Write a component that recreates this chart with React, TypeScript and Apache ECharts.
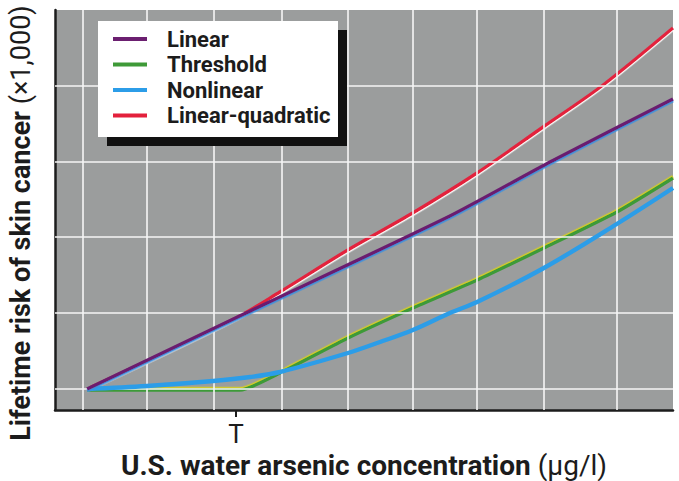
import React, { useEffect, useRef } from 'react';
import * as echarts from 'echarts';

const legendNames = ['Linear', 'Threshold', 'Nonlinear', 'Linear-quadratic'];

const linearData = [[5.2, 5.25], [30.9, 24.25], [63.9, 48.5], [80.1, 62], [100, 77.75]];
const linearQuadraticData = [[5.2, 5.25], [29.3, 23], [36.4, 29.5], [47.4, 40], [57.9, 49.25], [68.3, 59.25], [79, 70.75], [88.5, 81], [100, 95.5]];
const thresholdData = [[5.2, 5], [29.9, 5], [36.4, 9.25], [47.4, 18], [57.9, 25.5], [68.3, 32.5], [79.1, 40.5], [90.9, 49.5], [100, 58]];
const nonlinearData = [[5.2, 5.25], [14.9, 6], [25.6, 7.25], [31.6, 8.25], [36.4, 9.5], [47.4, 14.25], [52.6, 17], [57.9, 20], [63.9, 24.25], [68.3, 27], [79.1, 35.5], [90.9, 46.5], [100, 55.5]];

const xGridValues = [4.5, 14.9, 25.7, 36.7, 47.4, 57.9, 68.3, 79.1, 90.9];
const yGridValues = [5.25, 24.25, 43.25, 62, 81];
const tickValues = [29.3];
const tickLabels = ['T'];

const FONT = 'Roboto, "Liberation Sans", sans-serif';
const INK = '#1c1c1c';

export default function App() {
  const ref = useRef<HTMLDivElement>(null);
  useEffect(() => {
    if (!ref.current) return;
    const chart = echarts.init(ref.current, null, { renderer: 'svg' });
    const option = {
      animation: false,
      grid: { left: 55, right: 6, top: 10, bottom: 71, show: true, backgroundColor: '#9b9d9d', borderWidth: 0, outerBoundsMode: 'none', containLabel: false },
      xAxis: {
        type: 'value', min: 0, max: 100,
        axisLine: { show: true, lineStyle: { color: INK, width: 2.5 } },
        splitLine: { show: false },
        axisTick: { show: true, customValues: tickValues, length: 7, lineStyle: { color: INK, width: 2 } },
        axisLabel: {
          customValues: tickValues,
          formatter: (v: number) => tickLabels[tickValues.indexOf(v)] ?? '',
          fontSize: 26, color: INK, margin: 11, fontFamily: FONT,
        },
        name: '{b|U.S. water arsenic concentration} {r|(μg/l)}',
        nameLocation: 'middle', nameGap: 34,
        nameTextStyle: {
          fontSize: 28, fontFamily: FONT, color: INK,
          rich: {
            b: { fontSize: 28, fontWeight: 'bold', fontFamily: FONT, color: INK },
            r: { fontSize: 28, fontFamily: FONT, color: INK },
          },
        },
      },
      yAxis: {
        type: 'value', min: 0, max: 100,
        axisLine: { show: true, lineStyle: { color: INK, width: 2.5 } },
        splitLine: { show: false }, axisTick: { show: false }, axisLabel: { show: false },
        name: '{b|Lifetime risk of skin cancer} {r|(×1,000)}',
        nameLocation: 'middle', nameGap: 21, nameRotate: 90,
        nameTextStyle: {
          fontSize: 27, fontFamily: FONT, color: INK, padding: [0, 26, 0, 0],
          rich: {
            b: { fontSize: 27, fontWeight: 'bold', fontFamily: FONT, color: INK },
            r: { fontSize: 27, fontFamily: FONT, color: INK },
          },
        },
      },
      legend: {
        data: legendNames, orient: 'vertical', left: 113, top: 28, padding: 0, z: 20,
        icon: 'rect', itemWidth: 34, itemHeight: 4, itemGap: 3.5,
        textStyle: { fontSize: 22, fontWeight: 'bold', fontFamily: FONT, color: INK, lineHeight: 22, padding: [0, 0, 0, 15] },
      },
      graphic: [
        { type: 'rect', z: 10, shape: { x: 107, y: 30, width: 240, height: 116 }, style: { fill: '#111' } },
        { type: 'rect', z: 10, shape: { x: 98, y: 21, width: 240, height: 116 }, style: { fill: '#fff' } },
      ],
      series: [
        {
          type: 'line', name: 'grid', data: [], z: 1, silent: true,
          markLine: {
            silent: true, symbol: 'none', label: { show: false },
            lineStyle: { color: '#f6f6f6', width: 1.6, type: 'solid' },
            emphasis: { disabled: true },
            data: [...xGridValues.map((v) => ({ xAxis: v })), ...yGridValues.map((v) => ({ yAxis: v }))],
          },
        },
        {
          type: 'line', name: 'Linear-quadratic', data: linearQuadraticData, symbol: 'none', smooth: 0.3, z: 3,
          color: '#e3203c',
          lineStyle: { width: 3.4, color: '#e3203c', shadowColor: '#ffffff', shadowOffsetY: 1.4, shadowBlur: 0.5 },
        },
        {
          type: 'line', name: 'Threshold', data: thresholdData, symbol: 'none', smooth: 0.2, z: 4,
          color: '#3e9a38',
          lineStyle: { width: 3.4, color: '#3e9a38', shadowColor: '#d9d21e', shadowOffsetY: -1.3, shadowBlur: 0.5 },
        },
        {
          type: 'line', name: 'Nonlinear', data: nonlinearData, symbol: 'none', smooth: 0.35, z: 5,
          color: '#2c9de8',
          lineStyle: { width: 4.4, color: '#2c9de8' },
        },
        {
          type: 'line', name: 'Linear', data: linearData, symbol: 'none', smooth: 0.2, z: 6,
          color: '#6b1f70',
          lineStyle: { width: 3.4, color: '#6b1f70', shadowColor: '#3a8fe0', shadowOffsetY: 1.6, shadowBlur: 0.5 },
        },
      ],
    };
    chart.setOption(option as any);
    return () => chart.dispose();
  }, []);
  return <div ref={ref} style={{ width: 679, height: 481, position: 'absolute', left: 0, top: 0 }} />;
}
